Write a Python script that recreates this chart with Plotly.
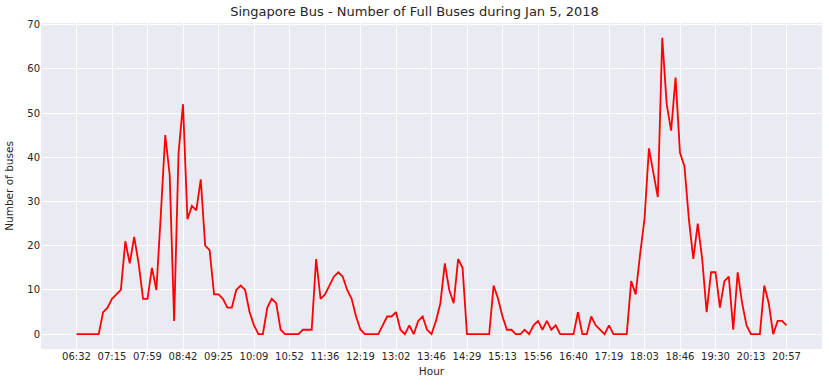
import plotly.graph_objects as go

title = "Singapore Bus - Number of Full Buses during Jan 5, 2018"

tick_labels = ["06:32", "07:15", "07:59", "08:42", "09:25", "10:09", "10:52",
               "11:36", "12:19", "13:02", "13:46", "14:29", "15:13", "15:56",
               "16:40", "17:19", "18:03", "18:46", "19:30", "20:13", "20:57"]
points_per_tick = 8

full_buses = [
    0, 0, 0, 0, 0, 0, 5, 6, 8, 9,
    10, 21, 16, 22, 16, 8, 8, 15, 10, 27,
    45, 36, 3, 41, 52, 26, 29, 28, 35, 20,
    19, 9, 9, 8, 6, 6, 10, 11, 10, 5,
    2, 0, 0, 6, 8, 7, 1, 0, 0, 0,
    0, 1, 1, 1, 17, 8, 9, 11, 13, 14,
    13, 10, 8, 4, 1, 0, 0, 0, 0, 2,
    4, 4, 5, 1, 0, 2, 0, 3, 4, 1,
    0, 3, 7, 16, 10, 7, 17, 15, 0, 0,
    0, 0, 0, 0, 11, 8, 4, 1, 1, 0,
    0, 1, 0, 2, 3, 1, 3, 1, 2, 0,
    0, 0, 0, 5, 0, 0, 4, 2, 1, 0,
    2, 0, 0, 0, 0, 12, 9, 18, 26, 42,
    36, 31, 67, 52, 46, 58, 41, 38, 26, 17,
    25, 17, 5, 14, 14, 6, 12, 13, 1, 14,
    7, 2, 0, 0, 0, 11, 7, 0, 3, 3,
    2,
]

x_idx = list(range(len(full_buses)))
tick_vals = [i * points_per_tick for i in range(len(tick_labels))]

fig = go.Figure()
fig.add_trace(go.Scatter(
    x=x_idx, y=full_buses, mode="lines",
    line=dict(color="#FF0000", width=1.8),
    hoverinfo="x+y",
))

n = len(full_buses) - 1
pad = 0.05 * n
fig.update_layout(
    width=829, height=387,
    margin=dict(l=41, r=7, t=23, b=38, autoexpand=False),
    paper_bgcolor="white",
    plot_bgcolor="#EAEAF2",
    font=dict(family="DejaVu Sans", size=10, color="#262626"),
    title=dict(text=title, x=0.5, xanchor="center", yref="container",
               y=0.981, yanchor="top",
               font=dict(size=13, color="#262626")),
    showlegend=False,
    xaxis=dict(
        range=[-pad, n + pad], automargin=False,
        tickmode="array", tickvals=tick_vals, ticktext=tick_labels,
        showgrid=True, gridcolor="white", gridwidth=1,
        zeroline=False, showline=False, ticks="",
        tickfont=dict(size=10, color="#262626"),
        title=dict(text="Hour", standoff=6, font=dict(size=10.5, color="#262626")),
    ),
    yaxis=dict(
        range=[-3.35, 70.35], automargin=False,
        tickmode="array", tickvals=[0, 10, 20, 30, 40, 50, 60, 70],
        showgrid=True, gridcolor="white", gridwidth=1,
        zeroline=False, showline=False, ticks="",
        tickfont=dict(size=10, color="#262626"),
        title=dict(text="Number of buses", standoff=11, font=dict(size=10.5, color="#262626")),
    ),
)

fig.write_html("out.html", config={"displayModeBar": False})

# remove the browser's default 8px body margin so the figure sits at (0, 0)
with open("out.html", "r", encoding="utf-8") as f:
    html = f.read()
html = html.replace("<head>", "<head><style>html,body{margin:0;padding:0;overflow:hidden;}</style>", 1)
with open("out.html", "w", encoding="utf-8") as f:
    f.write(html)
